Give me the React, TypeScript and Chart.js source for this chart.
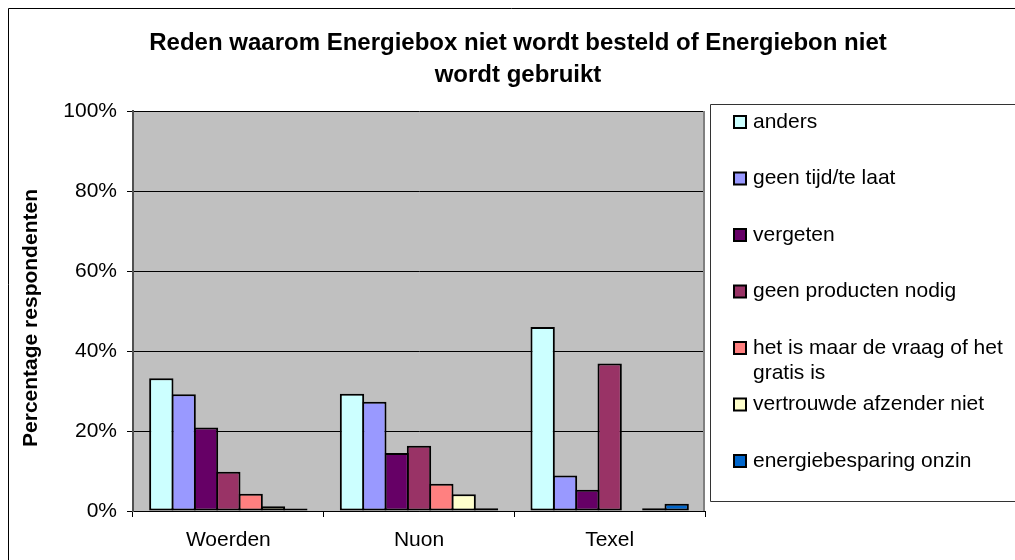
import React, { useEffect, useRef } from "react";
import { Chart, registerables } from "chart.js";

Chart.register(...registerables);

const categories = ["Woerden", "Nuon", "Texel"];
const seriesNames = [
  "anders",
  "geen tijd/te laat",
  "vergeten",
  "geen producten nodig",
  "het is maar de vraag of het gratis is",
  "vertrouwde afzender niet",
  "energiebesparing onzin",
];
const anders = [33.2, 29.3, 46.0];
const geenTijd = [29.2, 27.3, 8.9];
const vergeten = [20.9, 14.5, 5.3];
const geenProducten = [9.8, 16.3, 36.9];
const hetIsMaar = [4.3, 6.8, 0];
const vertrouwde = [1.2, 4.2, 0.7];
const energiebesparing = [0.6, 0.7, 1.8];
const seriesColors = ["#CCFFFF", "#9999FF", "#660066", "#993366", "#FF8080", "#FFFFCC", "#0066CC"];
const yTicks = [0, 20, 40, 60, 80, 100];
const titleLines = ["Reden waarom Energiebox niet wordt besteld of Energiebon niet", "wordt gebruikt"];
const yTitle = "Percentage respondenten";

const FONT = "'Liberation Sans', Arial, sans-serif";

const decorPlugin = {
  id: "decor",
  beforeDraw(chart: any) {
    const { ctx, chartArea } = chart;
    ctx.save();
    ctx.fillStyle = "#ffffff";
    ctx.fillRect(0, 0, chart.width, chart.height);
    ctx.fillStyle = "#C0C0C0";
    ctx.fillRect(chartArea.left, chartArea.top, chartArea.right - chartArea.left, chartArea.bottom - chartArea.top);
    ctx.restore();
  },
  afterDraw(chart: any) {
    const { ctx, chartArea } = chart;
    ctx.save();
    ctx.strokeStyle = "#000";
    ctx.lineWidth = 1;
    ctx.beginPath();
    ctx.moveTo(8.5, chart.height);
    ctx.lineTo(8.5, 8.5);
    ctx.lineTo(chart.width, 8.5);
    ctx.stroke();
    ctx.strokeStyle = "#808080";
    ctx.lineWidth = 2;
    ctx.beginPath();
    ctx.moveTo(chartArea.right - 1, chartArea.top);
    ctx.lineTo(chartArea.right - 1, chartArea.bottom);
    ctx.stroke();
    ctx.fillStyle = "#000";
    ctx.font = `bold 24px ${FONT}`;
    ctx.textAlign = "center";
    ctx.textBaseline = "alphabetic";
    ctx.fillText(titleLines[0], 518, 50);
    ctx.fillText(titleLines[1], 518, 82);
    ctx.save();
    ctx.translate(31, 318);
    ctx.rotate(-Math.PI / 2);
    ctx.font = `bold 21px ${FONT}`;
    ctx.textAlign = "center";
    ctx.textBaseline = "middle";
    ctx.fillText(yTitle, 0, 0);
    ctx.restore();
    const lx = 710.5, ly = 104.5, lb = 501.5;
    ctx.strokeStyle = "#333";
    ctx.lineWidth = 1;
    ctx.beginPath();
    ctx.moveTo(chart.width + 2, ly);
    ctx.lineTo(lx, ly);
    ctx.lineTo(lx, lb);
    ctx.lineTo(chart.width + 2, lb);
    ctx.stroke();
    ctx.font = `21px ${FONT}`;
    ctx.textAlign = "left";
    ctx.textBaseline = "middle";
    const maxW = 258;
    chart.data.datasets.forEach((ds: any, i: number) => {
      const cy = 122 + i * 56.5;
      ctx.fillStyle = ds.backgroundColor;
      ctx.fillRect(734, cy - 6, 12, 12);
      ctx.strokeStyle = "#000";
      ctx.lineWidth = 2;
      ctx.strokeRect(734, cy - 6, 12, 12);
      ctx.fillStyle = "#000";
      const words = String(ds.label).split(" ");
      const lines: string[] = [];
      let cur = "";
      words.forEach((w) => {
        const test = cur ? cur + " " + w : w;
        if (ctx.measureText(test).width > maxW && cur) {
          lines.push(cur);
          cur = w;
        } else cur = test;
      });
      if (cur) lines.push(cur);
      lines.forEach((ln, k) => ctx.fillText(ln, 753, cy + k * 25));
    });
    ctx.restore();
  },
};

export default function App() {
  const ref = useRef<HTMLCanvasElement | null>(null);
  useEffect(() => {
    if (!ref.current) return;
    const values = [anders, geenTijd, vergeten, geenProducten, hetIsMaar, vertrouwde, energiebesparing];
    const chart = new Chart(ref.current, {
      type: "bar",
      data: {
        labels: categories,
        datasets: values.map((v, i) => ({
          label: seriesNames[i],
          data: v,
          backgroundColor: seriesColors[i],
          borderColor: "#000",
          borderWidth: 2,
          borderSkipped: false,
          inflateAmount: 0,
          categoryPercentage: 0.82,
          barPercentage: 1.09,
        })),
      },
      options: {
        animation: false,
        responsive: false,
        maintainAspectRatio: false,
        layout: { padding: { top: 111, right: 310, left: 0, bottom: 0 } },
        plugins: { legend: { display: false }, title: { display: false }, tooltip: { enabled: false } },
        scales: {
          x: {
            grid: { drawOnChartArea: false, drawTicks: true, tickLength: 6, color: "#000", offset: true },
            border: { display: true, color: "#000", width: 1 },
            ticks: { color: "#000", font: { family: FONT, size: 21 }, padding: 11, maxRotation: 0 },
            afterFit: (s: any) => { s.height = 49; },
          },
          y: {
            min: 0,
            max: 100,
            afterBuildTicks: (s: any) => { s.ticks = yTicks.map((v) => ({ value: v })); },
            grid: { color: "#000", tickLength: 6, lineWidth: 1 },
            border: { display: true, color: "#505050", width: 2 },
            ticks: { color: "#000", font: { family: FONT, size: 21 }, padding: 10, callback: (v: any) => v + "%" },
            afterFit: (s: any) => { s.width = 133; },
          },
        },
      },
      plugins: [decorPlugin],
    });
    return () => chart.destroy();
  }, []);
  return (
    <div style={{ position: "fixed", left: 0, top: 0, width: 1015, height: 560 }}>
      <canvas ref={ref} width={1015} height={560} style={{ display: "block", width: 1015, height: 560 }} />
    </div>
  );
}
